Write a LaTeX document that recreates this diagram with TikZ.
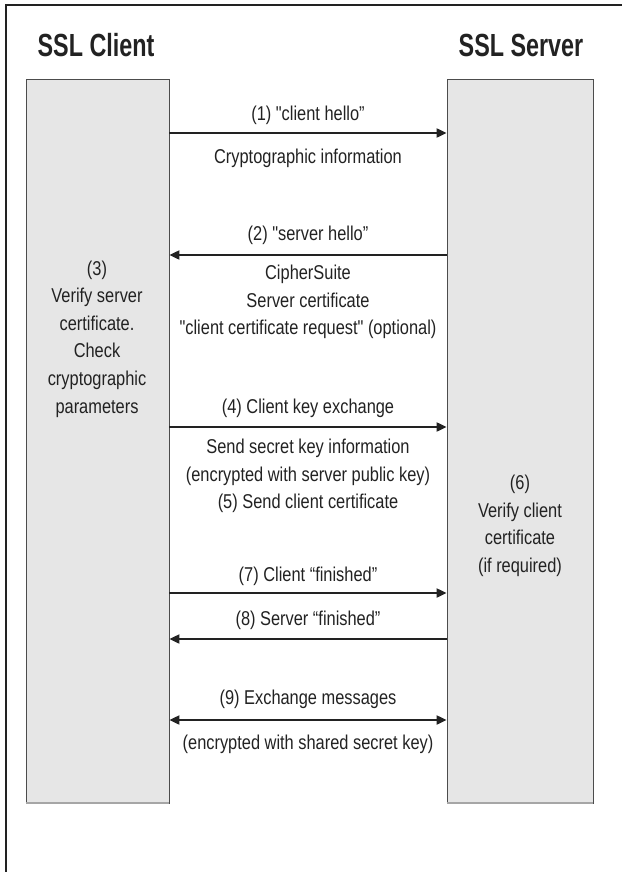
\documentclass[tikz,border=0pt]{standalone}
\usepackage{fontspec}
\setmainfont[FakeStretch=0.82,Ligatures=TeXOff]{Liberation Sans}
\newfontfamily\titlefont[FakeStretch=0.73]{Liberation Sans}
\usetikzlibrary{arrows.meta}
\definecolor{boxfill}{HTML}{E6E6E6}
\definecolor{ink}{HTML}{222222}
\tikzset{
  party/.style={rectangle, fill=boxfill, draw=gray!60!black, line width=0.8pt, minimum width=#1, minimum height=724pt, inner sep=0pt},
  title/.style={font=\titlefont\fontsize{32}{36}\selectfont\bfseries, text=ink, inner sep=0pt},
  msg/.style={font=\fontsize{20}{27.6}\selectfont, text=ink, align=center, inner sep=0pt},
  arr/.style={line width=2pt, draw=ink, -{Triangle[length=10pt,width=9pt]}},
  darr/.style={line width=2pt, draw=ink, {Triangle[length=10pt,width=9pt]}-{Triangle[length=10pt,width=9pt]}},
}
\begin{document}
\begin{tikzpicture}[x=1pt,y=-1pt]
\useasboundingbox (0,0) rectangle (622,872);
% outer frame (left and top edges)
\draw[line width=2pt, ink] (5.5,872) -- (5.5,5.5) -- (622,5.5);
% titles
\node[title, anchor=base] (tc) at (96,57) {SSL Client};
\node[title, anchor=base] (ts) at (521,57) {SSL Server};
% party columns
\node[party=143pt] (client) at (97.5,441) {};
\node[party=146pt] (server) at (520,441) {};
\draw[gray!70, line width=2pt] (client.south west) -- (client.south east);
\draw[gray!70, line width=2pt] (server.south west) -- (server.south east);
% column texts
\node[msg] (c3) at (97,339) {(3)\\Verify server\\certificate.\\Check\\cryptographic\\parameters};
\node[msg] (s6) at (520,526) {(6)\\Verify client\\certificate\\(if required)};
% (1)
\draw[arr] (client.east |- 0,133) -- (server.west |- 0,133);
\node[msg] (l1) at (308,115) {(1) "client hello”};
\node[msg] (l1b) at (308,158) {Cryptographic information};
% (2)
\draw[arr] (server.west |- 0,255) -- (client.east |- 0,255);
\node[msg] (l2) at (308,235) {(2) "server hello”};
\node[msg] (l2b) at (308,302) {CipherSuite\\Server certificate\\"client certificate request" (optional)};
% (4)
\draw[arr] (client.east |- 0,427) -- (server.west |- 0,427);
\node[msg] (l4) at (308,408) {(4) Client key exchange};
\node[msg] (l4b) at (308,476) {Send secret key information\\(encrypted with server public key)\\(5) Send client certificate};
% (7)
\draw[arr] (client.east |- 0,593) -- (server.west |- 0,593);
\node[msg] (l7) at (308,576) {(7) Client “finished”};
% (8)
\draw[arr] (server.west |- 0,639) -- (client.east |- 0,639);
\node[msg] (l8) at (308,620) {(8) Server “finished”};
% (9)
\draw[darr] (client.east |- 0,720) -- (server.west |- 0,720);
\node[msg] (l9) at (308,699) {(9) Exchange messages};
\node[msg] (l9b) at (308,744) {(encrypted with shared secret key)};
\end{tikzpicture}
\end{document}
